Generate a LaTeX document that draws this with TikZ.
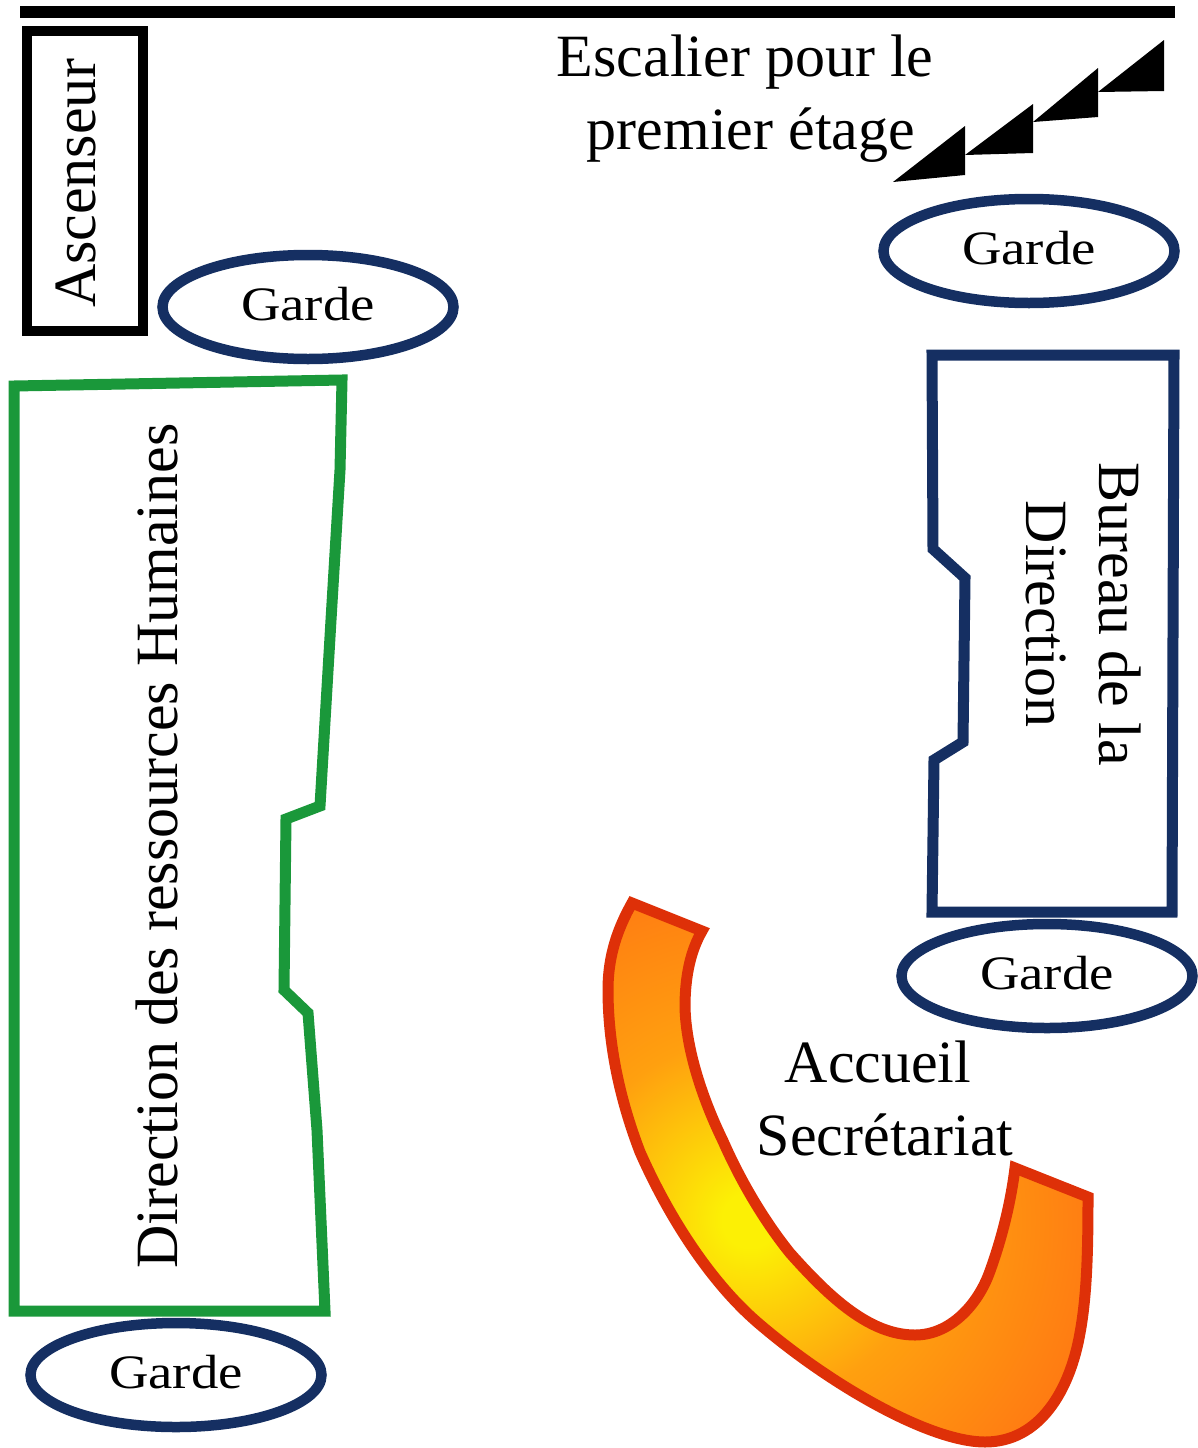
\documentclass[tikz,border=0pt]{standalone}
\usepackage{fontspec}
\usepackage{graphicx}
\setmainfont{Liberation Serif}
\usetikzlibrary{shapes.geometric}
\definecolor{navy}{RGB}{21,47,98}
\definecolor{roomgreen}{RGB}{26,152,58}
\definecolor{deskred}{RGB}{222,48,8}
\definecolor{deskorange}{RGB}{255,108,20}
\definecolor{deskmid}{RGB}{255,160,15}
\definecolor{deskyellow}{RGB}{252,240,5}
\pgfdeclareradialshading{deskshade}{\pgfpoint{0bp}{0bp}}{color(0bp)=(deskyellow);color(2bp)=(deskyellow);color(13bp)=(deskmid);color(30bp)=(deskorange);color(100bp)=(deskorange)}
\newcommand{\gardetext}{\raisebox{6pt}{\scalebox{1.14}[1]{Garde}}}
\tikzset{
  x=1pt,y=-1pt,
  gardebox/.style={ellipse,draw=navy,line width=10.5pt,minimum width=291pt,minimum height=104pt,inner sep=0pt,font=\fontsize{48}{48}\selectfont},
  bigtext/.style={font=\fontsize{60}{73}\selectfont,align=center,inner sep=0pt,text=black},
  wall/.style={line width=11pt,line join=miter},
  stairstep/.style={fill=black,draw=none},
}
\begin{document}
\begin{tikzpicture}
\useasboundingbox (0,0) rectangle (1198,1448);
% top wall
\fill[black] (20,6) rectangle (1175,18);
% lift
\node[draw=black,line width=10pt,minimum width=116pt,minimum height=300pt,inner sep=0pt] (lift) at (85,181) {};
\node[bigtext,rotate=90] (liftlabel) at (76,183) {Ascenseur};
% stairs
\node[bigtext] (stairlabel) at (745,99) {Escalier pour le\\\hspace{12pt}premier étage};
\fill[stairstep] (893,182) -- (965,126) -- (965,175) -- cycle;
\fill[stairstep] (965,155) -- (1033,104) -- (1033,153) -- cycle;
\fill[stairstep] (1033,122) -- (1098,68) -- (1098,117) -- cycle;
\fill[stairstep] (1098,92) -- (1164,40) -- (1164,91) -- cycle;
% guards
\node[gardebox] (g1) at (1029,251) {\gardetext};
\node[gardebox] (g2) at (308,307) {\gardetext};
\node[gardebox] (g3) at (1047,976) {\gardetext};
\node[gardebox] (g4) at (176,1375) {\gardetext};
% HR room
\draw[wall,draw=roomgreen] (14,386) -- (125,384) -- (342,380) -- (340,470) -- (331,620) -- (320,806) -- (286,819) -- (284,990) -- (308,1013) -- (317,1130) -- (325,1311) -- (14,1311) -- cycle;
\node[bigtext,rotate=90] (hrlabel) at (157,846) {Direction des ressources Humaines};
% Direction room
\draw[wall,draw=navy] (932,355) -- (1174,355) -- (1172,912) -- (932,912) -- (934,760) -- (963,742) -- (965,578) -- (933,549) -- cycle;
\node[bigtext,rotate=-90] (dirlabel) at (1084,614) {Bureau de la\\Direction};
% Reception desk
\def\deskpath{(632,903) -- (702,931)
  .. controls (691,950) and (685,975) .. (685,1007)
  .. controls (686,1050) and (703,1100) .. (723,1141)
  .. controls (741,1182) and (765,1222) .. (790,1253)
  .. controls (830,1298) and (870,1335) .. (915,1335)
  .. controls (950,1335) and (978,1305) .. (990,1271)
  .. controls (1003,1235) and (1011,1200) .. (1015,1168)
  -- (1088,1197)
  .. controls (1088,1250) and (1087,1295) .. (1080,1333)
  .. controls (1070,1390) and (1040,1442) .. (985,1442)
  .. controls (930,1442) and (830,1385) .. (757,1322)
  .. controls (712,1283) and (670,1220) .. (640,1152)
  .. controls (620,1100) and (608,1045) .. (608,990)
  .. controls (608,955) and (618,928) .. (632,903) -- cycle}
\begin{scope}
  \clip \deskpath;
  \path[shading=deskshade] (400,870) rectangle (1100,1570);
\end{scope}
\draw[line width=11pt,draw=deskred,line join=miter] \deskpath;
\node[bigtext] (desklabel) at (885,1098) {Accueil\kern14pt\\Secrétariat};
\end{tikzpicture}
\end{document}
